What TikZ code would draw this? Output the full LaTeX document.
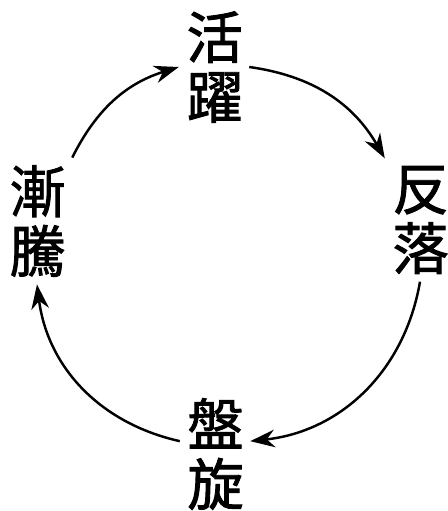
\documentclass[tikz,border=0pt]{standalone}
\usepackage{fontspec}
\newfontfamily\cjk{Noto Sans CJK TC}[AutoFakeBold=1.6]
\usetikzlibrary{arrows.meta}

\begin{document}
\begin{tikzpicture}[
  font=\cjk\bfseries\fontsize{16}{17}\selectfont,
  every node/.style={align=center},
  stage/.style={inner sep=2pt,text width=5.5mm},
  cyc/.style={-{Stealth[length=7pt,width=5pt]},line width=0.7pt,black},
]
\useasboundingbox (0,0) rectangle (4.47,5.11);

% ---- Stages (top, right, bottom, left)
\node[stage] (huoyue)   at (2.14,4.44) {活\\躍};
\node[stage] (fanluo)   at (4.20,2.91) {反\\落};
\node[stage] (panxuan)  at (2.15,0.57) {盤\\旋};
\node[stage] (jianteng) at (0.37,2.90) {漸\\騰};

% ---- Cycle (clockwise)
\draw[cyc] (huoyue.east) to[bend left=26] (fanluo.north west);
\draw[cyc] (fanluo.south) to[bend left=37] (panxuan.20);
\draw[cyc] (panxuan.160) to[bend left=35] (jianteng.south);
\draw[cyc] (jianteng.north east) to[bend left=23] (huoyue.west);

\end{tikzpicture}
\end{document}
